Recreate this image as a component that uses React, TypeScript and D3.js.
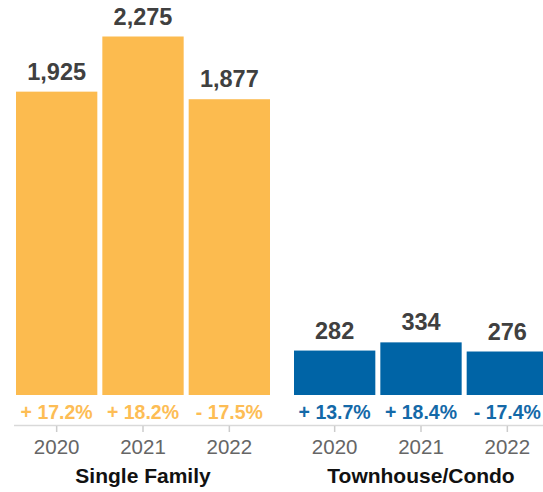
import React from "react";
import * as d3 from "d3";

const groups = ["Single Family", "Townhouse/Condo"];
const years = ["2020", "2021", "2022"];
const singleFamily = [1925, 2275, 1877];
const townhouse = [282, 334, 276];
const singleFamilyChange = ["+ 17.2%", "+ 18.2%", "- 17.5%"];
const townhouseChange = ["+ 13.7%", "+ 18.4%", "- 17.4%"];

const groupColors = ["#FCBB4F", "#0064A6"];
const changeColors = ["#FDBD55", "#1469A8"];

const W = 543;
const H = 492;
const FONT = "'Liberation Sans', Arial, Helvetica, sans-serif";

export default function App() {
  const values = [singleFamily, townhouse];
  const changes = [singleFamilyChange, townhouseChange];

  const x0 = d3.scaleBand<string>().domain(groups).range([16, 548]).paddingInner(24 / 278).paddingOuter(0);
  const x1 = d3.scaleBand<string>().domain(years).range([0, x0.bandwidth()]).paddingInner(0.058).paddingOuter(0);
  const maxV = d3.max(singleFamily.concat(townhouse)) as number;
  const y = d3.scaleLinear().domain([0, maxV]).range([395, 36.5]);

  const fmt = d3.format(",");

  return (
    <svg width={W} height={H} style={{ position: "absolute", left: 0, top: 0, fontFamily: FONT }}>
      <line x1={14} x2={W} y1={425.5} y2={425.5} stroke="#d9d9d9" strokeWidth={1.5} />
      {groups.map((g, gi) => {
        const gx = x0(g) as number;
        return (
          <g key={g} transform={`translate(${gx},0)`}>
            {years.map((yr, i) => {
              const bx = x1(yr) as number;
              const bw = x1.bandwidth();
              const v = values[gi][i];
              const cx = bx + bw / 2;
              return (
                <g key={yr}>
                  <rect x={bx} y={y(v)} width={bw} height={y(0) - y(v)} fill={groupColors[gi]} />
                  <text x={cx} y={y(v) - 12} textAnchor="middle" fontSize={23.5} fontWeight="bold" fill="#404040">
                    {fmt(v)}
                  </text>
                  <text x={cx} y={419} textAnchor="middle" fontSize={19.5} fontWeight="bold" fill={changeColors[gi]}>
                    {changes[gi][i]}
                  </text>
                  <line x1={cx} x2={cx} y1={426} y2={432} stroke="#cccccc" strokeWidth={1.5} />
                  <text x={cx} y={454} textAnchor="middle" fontSize={20.5} fill="#666666">
                    {yr}
                  </text>
                </g>
              );
            })}
            <text x={x0.bandwidth() / 2} y={483} textAnchor="middle" fontSize={21} fontWeight="bold" fill="#111111">
              {g}
            </text>
          </g>
        );
      })}
    </svg>
  );
}
